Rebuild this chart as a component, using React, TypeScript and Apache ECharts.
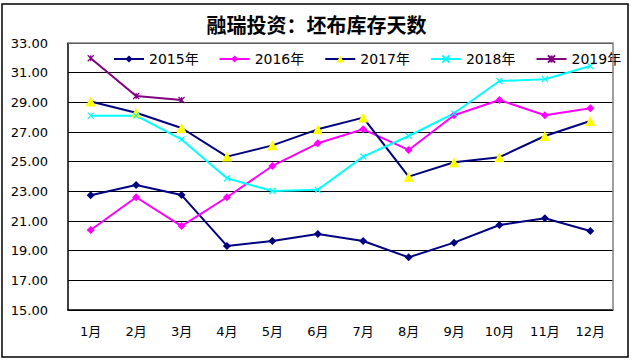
import React, { useEffect, useRef } from "react";
import * as echarts from "echarts";

const categories = ["1月", "2月", "3月", "4月", "5月", "6月", "7月", "8月", "9月", "10月", "11月", "12月"];
const y2015 = [22.73, 23.43, 22.75, 19.32, 19.65, 20.12, 19.65, 18.55, 19.54, 20.73, 21.18, 20.33];
const y2016 = [20.39, 22.6, 20.66, 22.6, 24.71, 26.24, 27.18, 25.79, 28.13, 29.16, 28.13, 28.6];
const y2017 = [29.05, 28.3, 27.27, 25.34, 26.1, 27.18, 27.97, 23.99, 24.96, 25.3, 26.73, 27.74];
const y2018 = [28.1, 28.1, 26.5, 23.88, 23.02, 23.11, 25.34, 26.73, 28.26, 30.44, 30.56, 31.45];
const y2019 = [31.97, 29.43, 29.16];
const seriesNames = ["2015年", "2016年", "2017年", "2018年", "2019年"];
const yTicks = { min: 15, max: 33, interval: 2 };

const FONT = "DejaVu Sans, Noto Sans CJK SC, sans-serif";

export default function App() {
  const ref = useRef<HTMLDivElement>(null);
  useEffect(() => {
    if (!ref.current) return;
    const chart = echarts.init(ref.current, undefined, { renderer: "svg" });
    const xPath = "path://M0,0L10,10M10,0L0,10";
    const starPath = "path://M0,0L10,10M10,0L0,10M5,0L5,10";
    chart.setOption({
      animation: false,
      backgroundColor: "#ffffff",
      title: {
        text: "融瑞投资：坯布库存天数",
        left: "center",
        top: 9,
        textStyle: { fontFamily: "Noto Sans CJK SC", fontWeight: "bold", fontSize: 20, color: "#000" },
      },
      legend: {
        top: 47,
        left: 108,
        width: 520,
        itemWidth: 30,
        itemHeight: 9,
        itemGap: 20,
        textStyle: { fontFamily: FONT, fontSize: 14, color: "#000" },
        data: seriesNames,
      },
      grid: { left: 68, top: 43, right: 20, bottom: 50 },
      graphic: [
        {
          type: "rect",
          shape: { x: 2, y: 4, width: 626, height: 353 },
          style: { fill: "none", stroke: "#000", lineWidth: 1.5 },
          silent: true,
        },
        {
          type: "polyline",
          shape: { points: [[68, 43], [613, 43], [613, 310]] },
          style: { fill: "none", stroke: "#808080", lineWidth: 1.5 },
          z: 5,
          silent: true,
        },
      ],
      xAxis: {
        type: "category",
        data: categories,
        boundaryGap: true,
        axisLine: { lineStyle: { color: "#000", width: 1.5 } },
        axisTick: { inside: true, length: 5, interval: 0, lineStyle: { color: "#000" } },
        axisLabel: { fontFamily: FONT, fontSize: 13, color: "#000", margin: 15, interval: 0 },
      },
      yAxis: {
        type: "value",
        min: yTicks.min,
        max: yTicks.max,
        interval: yTicks.interval,
        axisLine: { show: true, lineStyle: { color: "#000", width: 1.5 } },
        axisTick: { show: false },
        axisLabel: {
          fontFamily: FONT,
          fontSize: 13,
          color: "#000",
          margin: 20,
          formatter: (v: number) => v.toFixed(2),
        },
        splitLine: { lineStyle: { color: "#000", width: 1.2 } },
      },
      series: [
        {
          name: seriesNames[0],
          type: "line",
          data: y2015,
          symbol: "diamond",
          symbolSize: 8,
          lineStyle: { color: "#000080", width: 2 },
          itemStyle: { color: "#000080" },
        },
        {
          name: seriesNames[1],
          type: "line",
          data: y2016,
          symbol: "diamond",
          symbolSize: 8,
          lineStyle: { color: "#FF00FF", width: 2 },
          itemStyle: { color: "#FF00FF" },
        },
        {
          name: seriesNames[2],
          type: "line",
          data: y2017,
          symbol: "triangle",
          symbolSize: 10,
          lineStyle: { color: "#000080", width: 2 },
          itemStyle: { color: "#FFFF00" },
        },
        {
          name: seriesNames[3],
          type: "line",
          data: y2018,
          symbol: xPath,
          symbolSize: 6,
          lineStyle: { color: "#00FFFF", width: 2 },
          itemStyle: { color: "#00FFFF", borderColor: "#00FFFF", borderWidth: 1.2 },
        },
        {
          name: seriesNames[4],
          type: "line",
          data: y2019,
          symbol: starPath,
          symbolSize: 6,
          lineStyle: { color: "#800080", width: 2 },
          itemStyle: { color: "#800080", borderColor: "#800080", borderWidth: 1.2 },
        },
      ],
    });
    return () => chart.dispose();
  }, []);
  return (
    <div
      ref={ref}
      style={{ position: "fixed", left: 0, top: 0, width: 633, height: 360 }}
    />
  );
}
